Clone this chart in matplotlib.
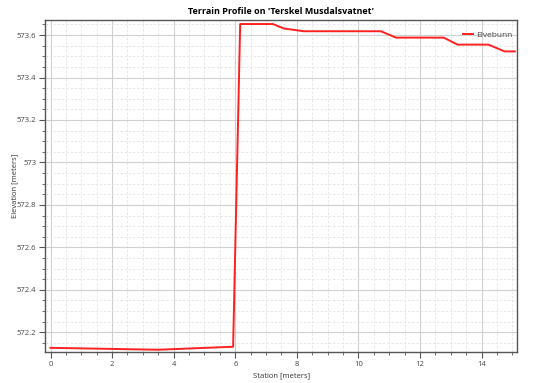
import matplotlib
matplotlib.use("Agg")
import matplotlib.pyplot as plt
from matplotlib.ticker import MultipleLocator, FuncFormatter

station = [0.0, 3.49, 5.93, 6.16, 7.22, 7.58, 8.22, 10.73, 11.22, 12.77, 13.22, 14.22, 14.75, 15.08]
elevation = [572.127, 572.118, 572.132, 573.652, 573.652, 573.631, 573.618, 573.618,
             573.588, 573.588, 573.555, 573.555, 573.523, 573.523]
series_name = "Elvebunn"
title = "Terrain Profile on 'Terskel Musdalsvatnet'"
xlabel = "Station [meters]"
ylabel = "Elevation [meters]"

plt.rcParams['font.family'] = ['Open Sans', 'DejaVu Sans']
fig = plt.figure(figsize=(5.34, 3.83), dpi=100)
ax = fig.add_axes([0.0848, 0.0802, 0.8839, 0.8676])

ax.plot(station, elevation, color='#ff2020', lw=1.4, label=series_name, zorder=3)

ax.set_xlim(-0.17, 15.16)
ax.set_ylim(572.106, 573.671)
ax.xaxis.set_major_locator(MultipleLocator(2))
ax.xaxis.set_minor_locator(MultipleLocator(0.5))
ax.yaxis.set_major_locator(MultipleLocator(0.2))
ax.yaxis.set_minor_locator(MultipleLocator(0.05))
ax.yaxis.set_major_formatter(FuncFormatter(lambda v, p: ('%.1f' % v).rstrip('0').rstrip('.')))
ax.xaxis.set_major_formatter(FuncFormatter(lambda v, p: '%g' % v))

ax.grid(which='major', color='#d0d0d0', lw=0.8, ls='-')
ax.grid(which='minor', color='#e4e4e4', lw=0.6, ls=(0, (3, 2)))
ax.set_axisbelow(True)

for s in ax.spines.values():
    s.set_color('#555555')
    s.set_linewidth(1.0)

ax.tick_params(which='major', length=4, width=0.8, color='#555555', labelsize=5.5, labelcolor='#444444', pad=2.5)
ax.tick_params(which='minor', length=2.5, width=0.6, color='#555555')

ax.set_title(title, fontsize=6.5, fontweight='bold', pad=4)
ax.set_xlabel(xlabel, fontsize=5.5, color='#333333', labelpad=3)
ax.set_ylabel(ylabel, fontsize=5.5, color='#333333')
ax.yaxis.set_label_coords(-0.058, 0.5)

ax.legend(loc='upper right', frameon=False, fontsize=6, handlelength=1.2,
          handletextpad=0.3, bbox_to_anchor=(1.005, 0.99), labelcolor='#444444')

fig.savefig('out.png', dpi=100)
